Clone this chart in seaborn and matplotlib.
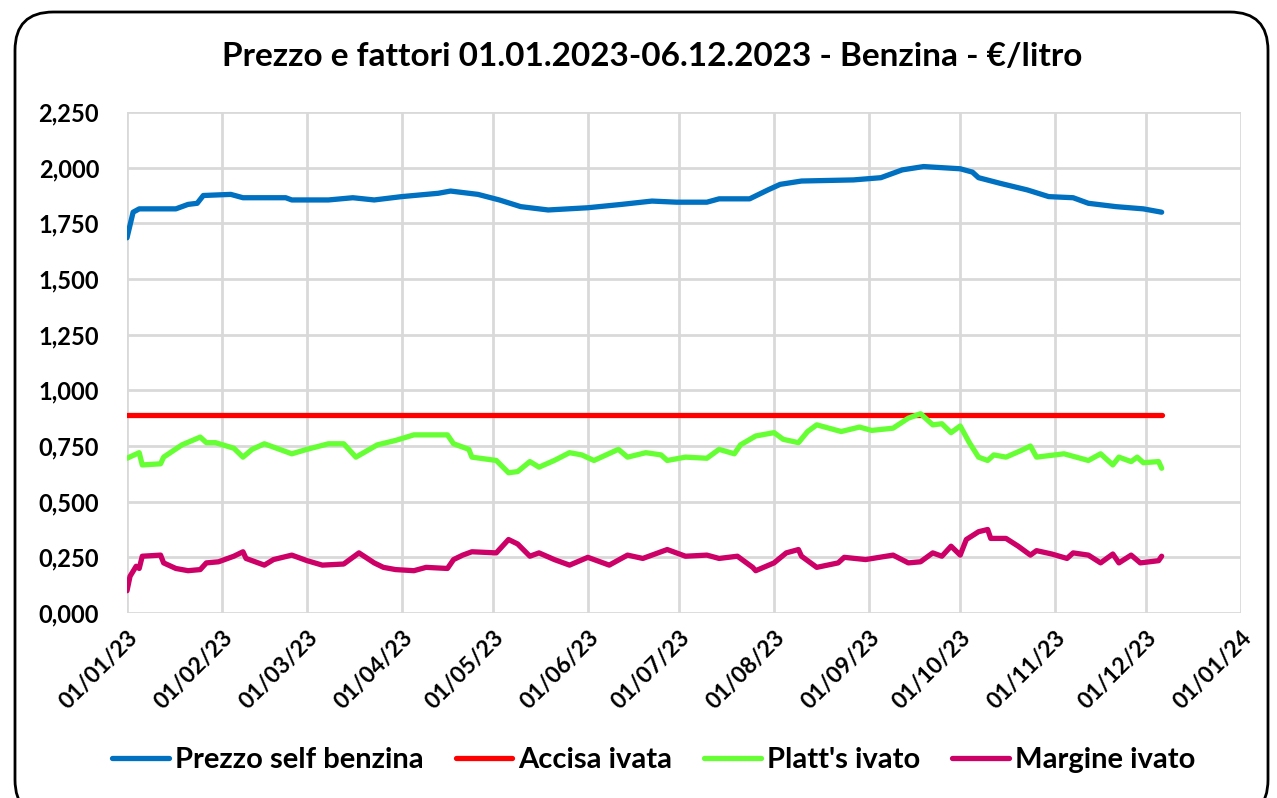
#!/usr/bin/env python3
import matplotlib
matplotlib.use("Agg")
import matplotlib.pyplot as plt
import matplotlib.dates as mdates
from matplotlib.patches import FancyBboxPatch
from matplotlib.ticker import FuncFormatter, MultipleLocator
import pandas as pd
import seaborn as sns

TITLE = "Prezzo e fattori 01.01.2023-06.12.2023 - Benzina - €/litro"

PALETTE = {
    "Prezzo self benzina": "#0070C0",
    "Accisa ivata": "#FF0000",
    "Platt's ivato": "#66FF33",
    "Margine ivato": "#CC0066",
}

prezzo_dates = [
    "01-01", "01-03", "01-05", "01-17", "01-21", "01-24", "01-26", "02-04",
    "02-08", "02-22", "02-24", "03-08", "03-16", "03-23", "04-01", "04-13",
    "04-17", "04-26", "05-03", "05-10", "05-19", "06-01", "06-12", "06-22",
    "06-30", "07-10", "07-14", "07-24", "07-30", "08-03", "08-10", "08-27",
    "09-05", "09-12", "09-19", "10-01", "10-05", "10-07", "10-14", "10-23",
    "10-30", "11-07", "11-12", "11-21", "11-30", "12-06",
]
prezzo = [
    1.685, 1.800, 1.815, 1.815, 1.835, 1.840, 1.875, 1.880,
    1.865, 1.865, 1.855, 1.855, 1.865, 1.855, 1.870, 1.885,
    1.895, 1.880, 1.855, 1.825, 1.810, 1.820, 1.835, 1.850,
    1.845, 1.845, 1.860, 1.860, 1.900, 1.925, 1.940, 1.945,
    1.955, 1.990, 2.005, 1.995, 1.980, 1.955, 1.930, 1.900,
    1.870, 1.865, 1.840, 1.825, 1.815, 1.800,
]

accisa_dates = ["01-01", "12-06"]
accisa = [0.889, 0.889]

platts_dates = [
    "01-01", "01-05", "01-06", "01-12", "01-13", "01-19", "01-25", "01-27",
    "01-30", "02-05", "02-08", "02-11", "02-15", "02-20", "02-24", "03-01",
    "03-08", "03-13", "03-17", "03-24", "03-30", "04-05", "04-16", "04-18",
    "04-23", "04-24", "05-02", "05-06", "05-09", "05-13", "05-16", "05-21",
    "05-26", "05-30", "06-03", "06-11", "06-14", "06-20", "06-25", "06-27",
    "07-03", "07-10", "07-14", "07-19", "07-21", "07-26", "08-01", "08-04",
    "08-09", "08-12", "08-15", "08-23", "08-29", "09-02", "09-09", "09-14",
    "09-18", "09-22", "09-25", "09-28", "10-01", "10-04", "10-07", "10-10",
    "10-12", "10-16", "10-21", "10-24", "10-26", "11-04", "11-12", "11-16",
    "11-20", "11-22", "11-26", "11-28", "11-30", "12-05", "12-06",
]
platts = [
    0.695, 0.720, 0.665, 0.670, 0.700, 0.755, 0.790, 0.765,
    0.765, 0.740, 0.700, 0.735, 0.760, 0.735, 0.715, 0.735,
    0.760, 0.760, 0.700, 0.755, 0.775, 0.800, 0.800, 0.760,
    0.735, 0.700, 0.685, 0.630, 0.635, 0.680, 0.655, 0.685,
    0.720, 0.710, 0.685, 0.735, 0.700, 0.720, 0.710, 0.685,
    0.700, 0.695, 0.735, 0.715, 0.755, 0.795, 0.810, 0.780,
    0.765, 0.815, 0.845, 0.815, 0.835, 0.820, 0.830, 0.875,
    0.895, 0.845, 0.850, 0.810, 0.840, 0.765, 0.700, 0.685,
    0.710, 0.700, 0.730, 0.750, 0.700, 0.715, 0.685, 0.715,
    0.665, 0.700, 0.680, 0.700, 0.675, 0.680, 0.650,
]

margine_dates = [
    "01-01", "01-02", "01-04", "01-05", "01-06", "01-12", "01-13", "01-17",
    "01-21", "01-25", "01-27", "01-31", "02-05", "02-08", "02-09", "02-15",
    "02-18", "02-24", "03-01", "03-06", "03-13", "03-18", "03-23", "03-26",
    "03-30", "04-05", "04-09", "04-16", "04-18", "04-21", "04-24", "05-02",
    "05-06", "05-09", "05-13", "05-16", "05-21", "05-26", "06-01", "06-08",
    "06-14", "06-19", "06-22", "06-27", "07-03", "07-10", "07-14", "07-20",
    "07-25", "07-26", "08-01", "08-05", "08-09", "08-10", "08-15", "08-22",
    "08-24", "08-31", "09-09", "09-14", "09-18", "09-22", "09-25", "09-28",
    "10-01", "10-03", "10-07", "10-10", "10-11", "10-16", "10-20", "10-24",
    "10-26", "10-31", "11-05", "11-07", "11-12", "11-16", "11-20", "11-22",
    "11-26", "11-29", "12-05", "12-06",
]
margine = [
    0.100, 0.165, 0.210, 0.200, 0.255, 0.260, 0.225, 0.200,
    0.190, 0.195, 0.225, 0.230, 0.255, 0.275, 0.245, 0.215,
    0.240, 0.260, 0.235, 0.215, 0.220, 0.270, 0.225, 0.205,
    0.195, 0.190, 0.205, 0.200, 0.240, 0.260, 0.275, 0.270,
    0.330, 0.310, 0.255, 0.270, 0.240, 0.215, 0.250, 0.215,
    0.260, 0.245, 0.260, 0.285, 0.255, 0.260, 0.245, 0.255,
    0.205, 0.190, 0.225, 0.270, 0.285, 0.255, 0.205, 0.225,
    0.250, 0.240, 0.260, 0.225, 0.230, 0.270, 0.255, 0.300,
    0.260, 0.330, 0.365, 0.375, 0.335, 0.335, 0.300, 0.260,
    0.280, 0.265, 0.245, 0.270, 0.260, 0.225, 0.265, 0.225,
    0.260, 0.225, 0.235, 0.255,
]


def series(name, dates, values):
    return pd.DataFrame({
        "data": pd.to_datetime(["2023-" + d for d in dates]),
        "valore": values,
        "serie": name,
    })


def main() -> None:
    sns.set_theme(style="white")
    plt.rcParams["font.family"] = ["Lato", "DejaVu Sans"]
    plt.rcParams["font.weight"] = "bold"
    plt.rcParams["text.color"] = "black"
    plt.rcParams["xtick.color"] = "black"
    plt.rcParams["ytick.color"] = "black"

    df = pd.concat([
        series("Prezzo self benzina", prezzo_dates, prezzo),
        series("Accisa ivata", accisa_dates, accisa),
        series("Platt's ivato", platts_dates, platts),
        series("Margine ivato", margine_dates, margine),
    ], ignore_index=True)

    fig = plt.figure(figsize=(12.77, 7.98), dpi=100)
    fig.patch.set_facecolor("white")
    border = FancyBboxPatch(
        (15 / 1277, -20 / 798), 1253 / 1277, 806 / 798,
        boxstyle="round,pad=0,rounding_size=0.03",
        transform=fig.transFigure, facecolor="none",
        edgecolor="black", linewidth=2, mutation_aspect=1277 / 798,
    )
    fig.patches.append(border)

    ax = fig.add_axes([127 / 1277, 1 - 613 / 798, 1114 / 1277, 501 / 798])
    ax.set_facecolor("none")
    sns.lineplot(
        data=df, x="data", y="valore", hue="serie", palette=PALETTE,
        linewidth=3.8, ax=ax, legend=True,
    )
    for line in ax.lines:
        line.set_solid_capstyle("round")

    ax.set_xlim(pd.Timestamp("2023-01-01"), pd.Timestamp("2024-01-01"))
    ax.set_ylim(0, 2.25)
    ax.yaxis.set_major_locator(MultipleLocator(0.25))
    ax.yaxis.set_major_formatter(
        FuncFormatter(lambda v, _: f"{v:.3f}".replace(".", ","))
    )
    ax.xaxis.set_major_locator(mdates.MonthLocator())
    ax.xaxis.set_major_formatter(mdates.DateFormatter("%d/%m/%y"))
    ax.grid(True, color="#D9D9D9", linewidth=2)
    ax.set_axisbelow(True)
    for s in ax.spines.values():
        s.set_visible(False)
    ax.tick_params(axis="x", length=7, width=2, color="#D9D9D9",
                   labelsize=16.5, pad=3, labelcolor="black")
    ax.tick_params(axis="y", length=0, labelsize=17, pad=20,
                   labelcolor="black")
    plt.setp(ax.get_xticklabels(), rotation=45, ha="right",
             rotation_mode="anchor", fontweight="bold")
    plt.setp(ax.get_yticklabels(), fontweight="bold")
    ax.set_xlabel("")
    ax.set_ylabel("")

    handles, labels = ax.get_legend_handles_labels()
    ax.get_legend().remove()
    fig.legend(
        handles, labels, loc="center", bbox_to_anchor=(0.512, 1 - 760 / 798),
        ncol=4, frameon=False, handlelength=1.95, handletextpad=0.2,
        columnspacing=1.1, prop={"size": 21, "weight": "bold"},
    )
    fig.text(0.511, 1 - 57 / 798, TITLE, ha="center", va="center",
             fontsize=24, fontweight="bold", color="black")

    fig.savefig("out.png", dpi=100)
    plt.close(fig)


if __name__ == "__main__":
    main()
